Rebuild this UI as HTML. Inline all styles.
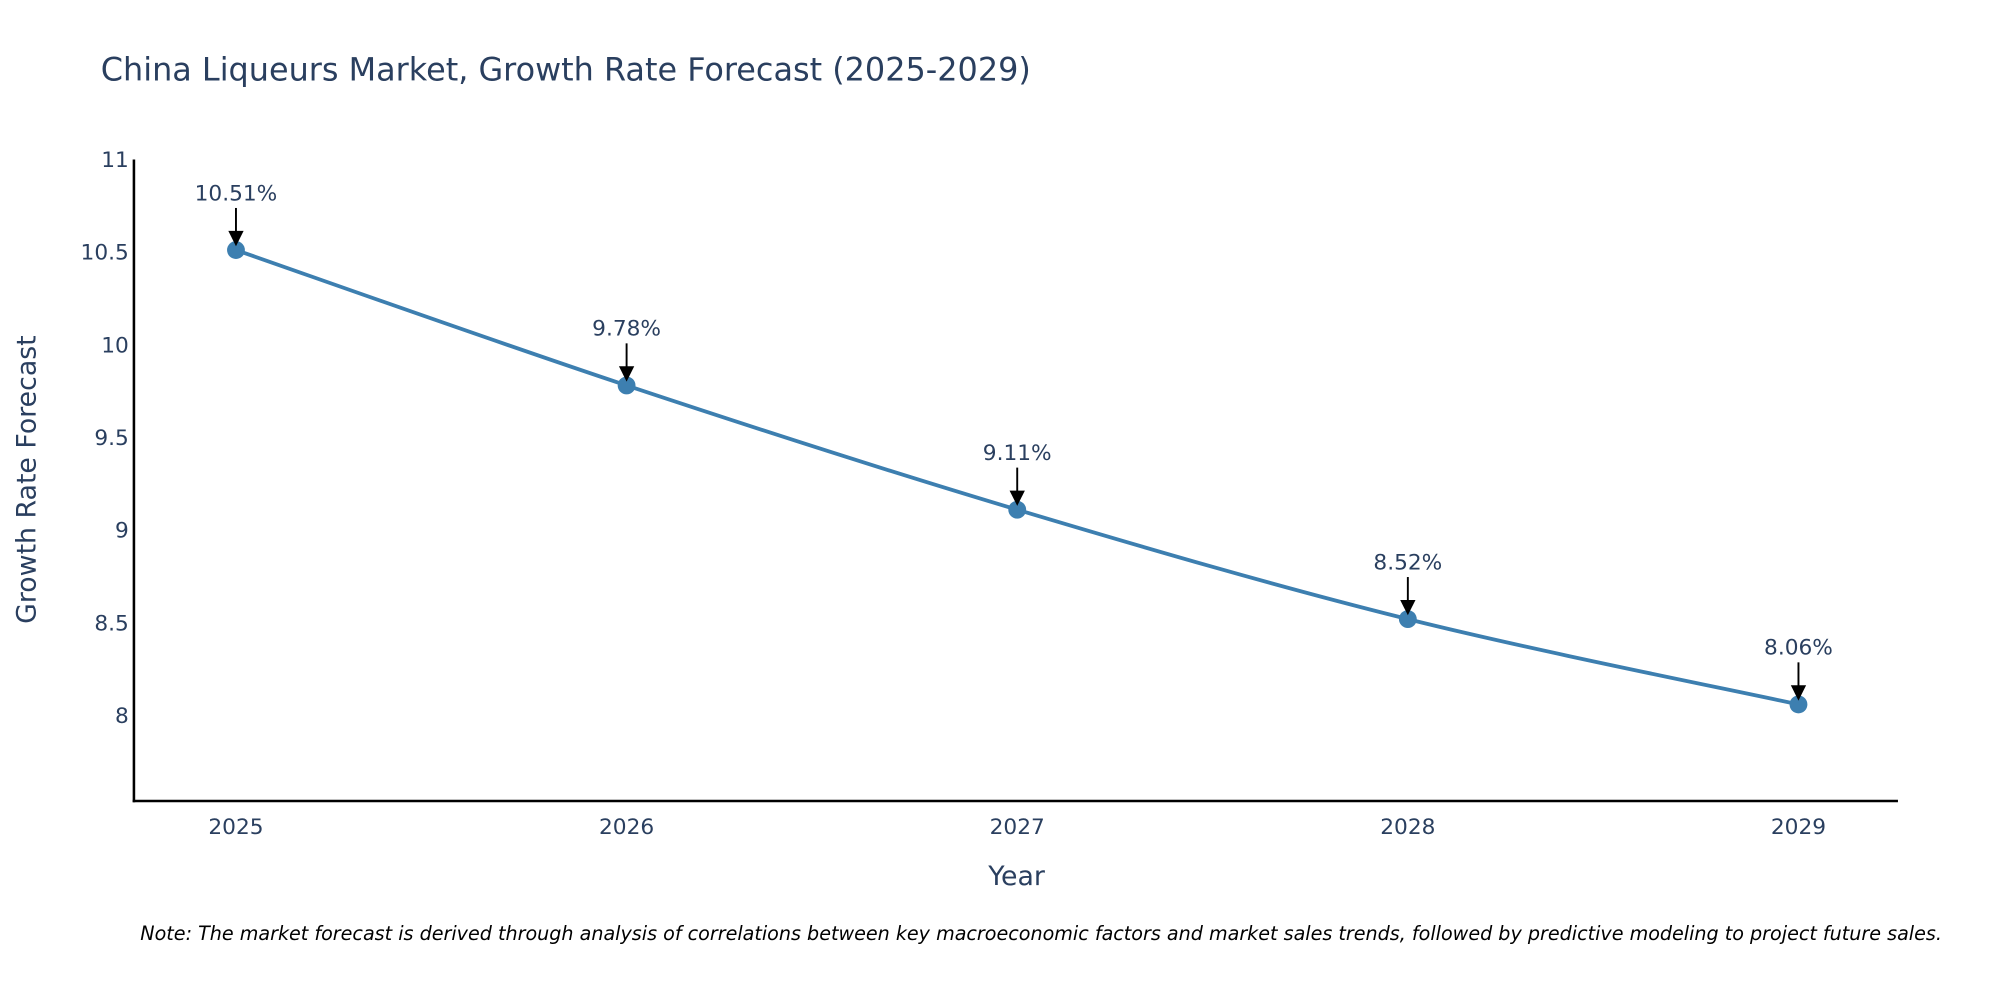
<!DOCTYPE html>
<html><head><meta charset="utf-8"><style>
html,body{margin:0;padding:0;background:#fff;}
svg{display:block;font-family:"DejaVu Sans","Liberation Sans",sans-serif;}
</style></head><body>
<svg id="chart" width="2000" height="1000" viewBox="0 0 1568 784" xmlns="http://www.w3.org/2000/svg">
<text x="79" y="63" font-size="25" fill="#2a3f5f">China Liqueurs Market, Growth Rate Forecast (2025-2029)</text>
<g id="yticks"></g>
<g id="xticks"></g>
<line x1="105" y1="125" x2="105" y2="629" stroke="#000" stroke-width="2"/>
<line x1="104" y1="628" x2="1488" y2="628" stroke="#000" stroke-width="2"/>
<text transform="translate(28,376) rotate(-90)" text-anchor="middle" font-size="21" fill="#2a3f5f">Growth Rate Forecast</text>
<text x="797" y="694" text-anchor="middle" font-size="21" fill="#2a3f5f">Year</text>
<g id="series"></g>
<text x="110" y="737" font-size="15" font-style="italic" fill="#000">Note: The market forecast is derived through analysis of correlations between key macroeconomic factors and market sales trends, followed by predictive modeling to project future sales.</text>
</svg>
<script>
const years = ["2025","2026","2027","2028","2029"];
const growth = [10.51, 9.78, 9.11, 8.52, 8.06];
const labels = ["10.51%","9.78%","9.11%","8.52%","8.06%"];
const yTicks = [8, 8.5, 9, 9.5, 10, 10.5, 11];
const yTickLabels = ["8","8.5","9","9.5","10","10.5","11"];

const NS = "http://www.w3.org/2000/svg";
function xPos(i){ return 185 + i * 306.25; }
function yPos(v){ return 561 - (v - 8) * 145.4; }
function mk(tag, attrs, parent){
  const e = document.createElementNS(NS, tag);
  for (const k in attrs) e.setAttribute(k, attrs[k]);
  parent.appendChild(e);
  return e;
}
const yt = document.getElementById('yticks');
yTicks.forEach((v, i) => {
  const y = yPos(v);
  const t = mk('text', {x: 101, y: y + 6, 'text-anchor': 'end', 'font-size': 17, fill: '#2a3f5f'}, yt);
  
  
  t.textContent = yTickLabels[i];
});
const xt = document.getElementById('xticks');
years.forEach((yr, i) => {
  const t = mk('text', {x: xPos(i), y: 654, 'text-anchor': 'middle', 'font-size': 17, fill: '#2a3f5f'}, xt);
  
  
  t.textContent = yr;
});
const s = document.getElementById('series');
const P = growth.map((v, i) => [xPos(i), yPos(v)]);
let d = 'M' + P[0][0] + ',' + P[0][1];
for (let i = 0; i < P.length - 1; i++) {
  const p0 = P[Math.max(i - 1, 0)], p1 = P[i], p2 = P[i + 1], p3 = P[Math.min(i + 2, P.length - 1)];
  const k = 0.5 / 3;
  const c1 = [p1[0] + (p2[0] - p0[0]) * k, p1[1] + (p2[1] - p0[1]) * k];
  const c2 = [p2[0] - (p3[0] - p1[0]) * k, p2[1] - (p3[1] - p1[1]) * k];
  d += ' C' + c1[0] + ',' + c1[1] + ' ' + c2[0] + ',' + c2[1] + ' ' + p2[0] + ',' + p2[1];
}
const pl = mk('path', {d: d, fill: 'none', stroke: '#3d7fb0', 'stroke-width': 3}, s);


growth.forEach((v, i) => {
  const x = xPos(i), y = yPos(v);
  const c = mk('circle', {cx: x, cy: y, r: 7, fill: '#3d7fb0'}, s);
  
  
  const a = mk('line', {x1: x, x2: x, y1: y - 33, y2: y - 14, stroke: '#000', 'stroke-width': 1.5}, s);
  
  
  const h = mk('polygon', {points: (x-6)+','+(y-15)+' '+(x+6)+','+(y-15)+' '+x+','+(y-3), fill: '#000'}, s);
  
  
  const t = mk('text', {x: x, y: y - 39, 'text-anchor': 'middle', 'font-size': 17, fill: '#2a3f5f'}, s);
  
  
  t.textContent = labels[i];
});
</script>
</body></html>
